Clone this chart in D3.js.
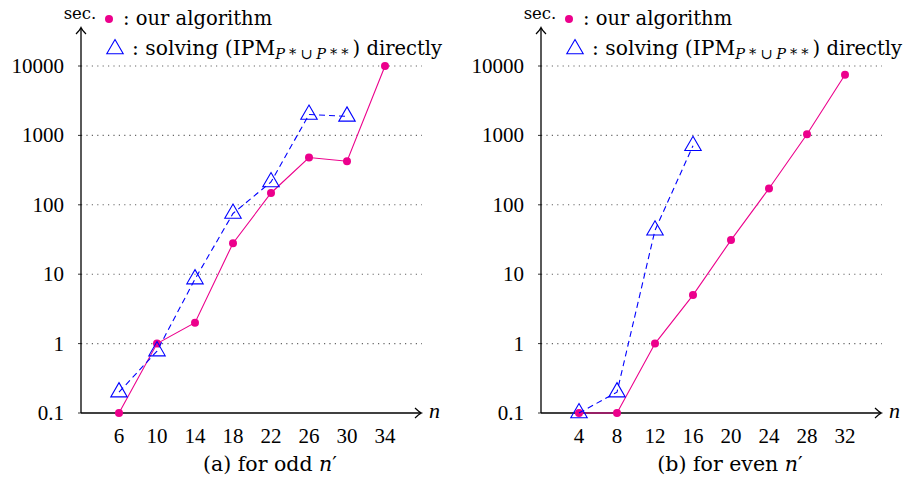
<!DOCTYPE html>
<html>
<head>
<meta charset="utf-8">
<script src="https://cdn.jsdelivr.net/npm/d3@7"></script>
<style>
  body { margin: 0; background: #fff; }
  text { font-family: "Liberation Serif", "Times New Roman", serif; fill: #000; }
  text.words { font-family: "DejaVu Serif", serif; }
</style>
</head>
<body>
<svg id="chart" width="907" height="492"></svg>
<script>
// data
var oddN = [6, 10, 14, 18, 22, 26, 30, 34];
var oddOurs = [0.1, 1, 2, 28, 148, 480, 425, 10000];
var oddDirectN = [6, 10, 14, 18, 22, 26, 30];
var oddDirect = [0.2, 0.78, 8.5, 75, 213, 2000, 1880];

var evenN = [4, 8, 12, 16, 20, 24, 28, 32];
var evenOurs = [0.1, 0.1, 1, 5, 31, 172, 1040, 7500];
var evenDirectN = [4, 8, 12, 16];
var evenDirect = [0.1, 0.2, 43, 710];

var yTicks = [0.1, 1, 10, 100, 1000, 10000];
var yTickLabels = ['0.1', '1', '10', '100', '1000', '10000'];

var pink = '#ec008c';
var blue = '#0000ff';

var svg = d3.select('#chart');

// layout of one panel
var plotWidth = 339;   // axis length in x
var plotTop = 66, plotBottom = 413;

function drawPanel(left, xDomain, xTicks, ours, directN, direct, label) {
  var g = svg.append('g').attr('transform', 'translate(' + left + ',0)');

  var x = d3.scaleLinear().domain(xDomain).range([0, plotWidth]);
  var y = d3.scaleLog().domain([0.1, 10000]).range([plotBottom, plotTop]);

  // dotted grid
  g.selectAll('line.grid')
    .data(yTicks.slice(1))
    .enter()
    .append('line')
      .attr('x1', 0)
      .attr('x2', plotWidth + 2)
      .attr('y1', function(d) { return y(d); })
      .attr('y2', function(d) { return y(d); })
      .attr('stroke', '#666')
      .attr('stroke-width', 1.1)
      .attr('stroke-dasharray', '1.2,4.2');

  // y ticks and labels
  g.selectAll('line.ytick')
    .data(yTicks)
    .enter()
    .append('line')
      .attr('x1', -3)
      .attr('x2', 0)
      .attr('y1', function(d) { return y(d); })
      .attr('y2', function(d) { return y(d); })
      .attr('stroke', '#000')
      .attr('stroke-width', 0.8);
  g.selectAll('text.ylab')
    .data(yTicks)
    .enter()
    .append('text')
      .attr('x', -17)
      .attr('y', function(d) { return y(d) + 7; })
      .attr('text-anchor', 'end')
      .style('font-size', '21px')
      .text(function(d, i) { return yTickLabels[i]; });

  // x tick labels
  g.selectAll('text.xlab')
    .data(xTicks)
    .enter()
    .append('text')
      .attr('x', function(d) { return x(d); })
      .attr('y', 443)
      .attr('text-anchor', 'middle')
      .style('font-size', '21px')
      .text(function(d) { return d; });

  // axes with arrow heads
  g.append('line')
    .attr('x1', 0).attr('x2', plotWidth + 1)
    .attr('y1', plotBottom).attr('y2', plotBottom)
    .attr('stroke', '#000').attr('stroke-width', 1.3);
  g.append('path')
    .attr('d', 'M' + (plotWidth - 5) + ',' + (plotBottom - 5) + ' Q' + (plotWidth - 1) + ',' + (plotBottom - 1) + ' ' + (plotWidth + 1.5) + ',' + plotBottom +
               ' Q' + (plotWidth - 1) + ',' + (plotBottom + 1) + ' ' + (plotWidth - 5) + ',' + (plotBottom + 5))
    .attr('fill', 'none').attr('stroke', '#000').attr('stroke-width', 1.2);
  g.append('line')
    .attr('x1', 0).attr('x2', 0)
    .attr('y1', plotBottom).attr('y2', 29)
    .attr('stroke', '#000').attr('stroke-width', 1.3);
  g.append('path')
    .attr('d', 'M-5,34 Q-1,30 0,27.5 Q1,30 5,34')
    .attr('fill', 'none').attr('stroke', '#000').attr('stroke-width', 1.2);

  g.append('text')
    .attr('x', plotWidth + 9)
    .attr('y', plotBottom + 5)
    .style('font-size', '22px')
    .style('font-style', 'italic')
    .text('n');
  g.append('text')
    .attr('class', 'words')
    .attr('x', -1)
    .attr('y', 19)
    .attr('text-anchor', 'middle')
    .style('font-size', '16.5px')
    .text('sec.');

  // our algorithm
  var line = d3.line()
    .x(function(d) { return x(d[0]); })
    .y(function(d) { return y(d[1]); });
  var oursData = xTicks.map(function(n, i) { return [n, ours[i]]; });
  g.append('path')
    .datum(oursData)
    .attr('d', line)
    .attr('fill', 'none')
    .attr('stroke', pink)
    .attr('stroke-width', 1.1);
  g.selectAll('circle.ours')
    .data(oursData)
    .enter()
    .append('circle')
      .attr('cx', function(d) { return x(d[0]); })
      .attr('cy', function(d) { return y(d[1]); })
      .attr('r', 4)
      .attr('fill', pink);

  // solving directly
  var directData = directN.map(function(n, i) { return [n, direct[i]]; });
  g.append('path')
    .datum(directData)
    .attr('d', line)
    .attr('fill', 'none')
    .attr('stroke', blue)
    .attr('stroke-width', 1.1)
    .attr('stroke-dasharray', '6,4');
  var tri = d3.symbol().type(d3.symbolTriangle).size(117);
  g.selectAll('path.direct')
    .data(directData)
    .enter()
    .append('path')
      .attr('d', tri)
      .attr('transform', function(d) { return 'translate(' + x(d[0]) + ',' + y(d[1]) + ')'; })
      .attr('fill', 'none')
      .attr('stroke', blue)
      .attr('stroke-width', 1.1);

  // legend
  g.append('circle')
    .attr('cx', 28).attr('cy', 19).attr('r', 4).attr('fill', pink);
  g.append('text')
    .attr('class', 'words')
    .attr('x', 42).attr('y', 25)
    .style('font-size', '19.5px')
    .text(': our algorithm');
  g.append('path')
    .attr('d', tri)
    .attr('transform', 'translate(34,49)')
    .attr('fill', 'none')
    .attr('stroke', blue)
    .attr('stroke-width', 1.1);
  var t = g.append('text')
    .attr('class', 'words')
    .attr('x', 51).attr('y', 55)
    .style('font-size', '19.5px');
  t.append('tspan').style('font-size', '20.3px').text(': solving (IPM');
  var sub = t.append('tspan').attr('dy', 4).style('font-size', '14.5px').style('letter-spacing', '4px');
  sub.append('tspan').style('font-style', 'italic').text('P');
  sub.append('tspan').text('*\u222A');
  sub.append('tspan').style('font-style', 'italic').text('P');
  sub.append('tspan').text('**');
  t.append('tspan').attr('dy', -4).text(') directly');

  // caption
  var c = g.append('text')
    .attr('class', 'words')
    .attr('x', 189)
    .attr('y', 471)
    .attr('text-anchor', 'middle')
    .style('font-size', '20.5px');
  c.append('tspan').text(label);
  c.append('tspan').style('font-style', 'italic').text('n');
  c.append('tspan').text('\u2032');
}

drawPanel(81, [2, 2 + plotWidth / 9.5], oddN, oddOurs, oddDirectN, oddDirect, '(a) for odd ');
drawPanel(541, [0, plotWidth / 9.5], evenN, evenOurs, evenDirectN, evenDirect, '(b) for even ');
</script>
</body>
</html>
